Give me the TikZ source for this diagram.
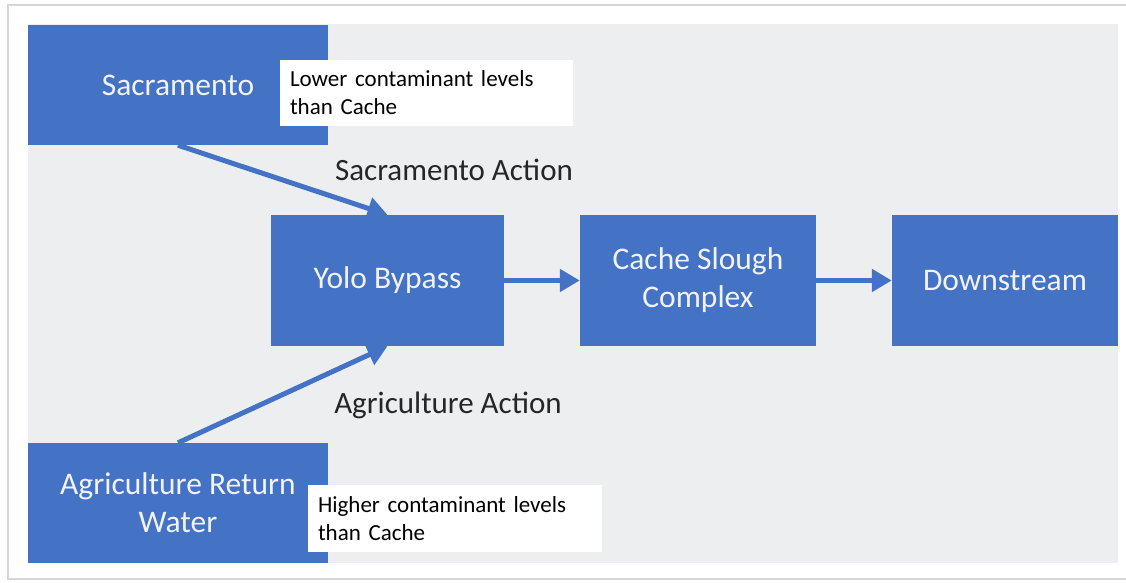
\documentclass[tikz,border=0pt]{standalone}
\usepackage{fontspec}
\setmainfont{Carlito}
\usetikzlibrary{arrows.meta}
\definecolor{boxblue}{HTML}{4472C4}
\definecolor{panelgray}{HTML}{EDEEF0}
\definecolor{framegray}{HTML}{D6D6D6}
\definecolor{boxtext}{HTML}{F2F3F8}
\definecolor{labeltext}{HTML}{262626}
\begin{document}
\begin{tikzpicture}[x=1pt,y=-1pt,
  bluebox/.style={rectangle, fill=boxblue, draw=none, text=boxtext, align=center,
    font=\fontsize{31.5}{38}\selectfont, inner sep=0pt},
  notebox/.style={rectangle, fill=white, draw=none, align=left, text=black,
    inner xsep=10pt, inner ysep=0pt, font=\fontsize{23}{28}\selectfont},
  flowlabel/.style={font=\fontsize{31}{37}\selectfont, text=labeltext, inner sep=0pt},
  arr/.style={draw=boxblue, line width=5pt, -{Triangle[length=20pt,width=22pt]}}]
\useasboundingbox (0,0) rectangle (1126,582);
\fill[white] (0,0) rectangle (1126,582);
% frame
\draw[framegray, line width=2pt] (1126,5) -- (8,5) -- (8,579) -- (1126,579);
% panel
\fill[panelgray] (28,24) rectangle (1118,563);

% boxes
\node[bluebox, minimum width=300pt, minimum height=120pt] (sac) at (178,85) {Sacramento};
\node[bluebox, minimum width=300pt, minimum height=120pt] (agr) at (178,503) {Agriculture Return\\Water};
\node[bluebox, minimum width=233pt, minimum height=131pt] (yolo) at (387.5,280.5) {Yolo Bypass};
\node[bluebox, minimum width=236pt, minimum height=131pt] (cache) at (698,280.5) {Cache Slough\\Complex};
\node[bluebox, minimum width=226pt, minimum height=131pt] (down) at (1005,280.5) {Downstream};

% connectors
\draw[arr] (sac.south) -- (yolo.north);
\draw[arr] (agr.north) -- (yolo.south);
\draw[arr] (yolo.east) -- (cache.west);
\draw[arr] (cache.east) -- (down.west);

% labels
\node[flowlabel] (sacact) at (454,170) {Sacramento Action};
\node[flowlabel] (agract) at (448,405) {Agriculture Action};

% notes
\node[notebox, text width=273pt, minimum height=66pt] (note1) at (426.5,93)
  {Lower contaminant levels\\than Cache};
\node[notebox, text width=274pt, minimum height=67pt] (note2) at (455,518.5)
  {Higher contaminant levels\\than Cache};
\end{tikzpicture}
\end{document}
